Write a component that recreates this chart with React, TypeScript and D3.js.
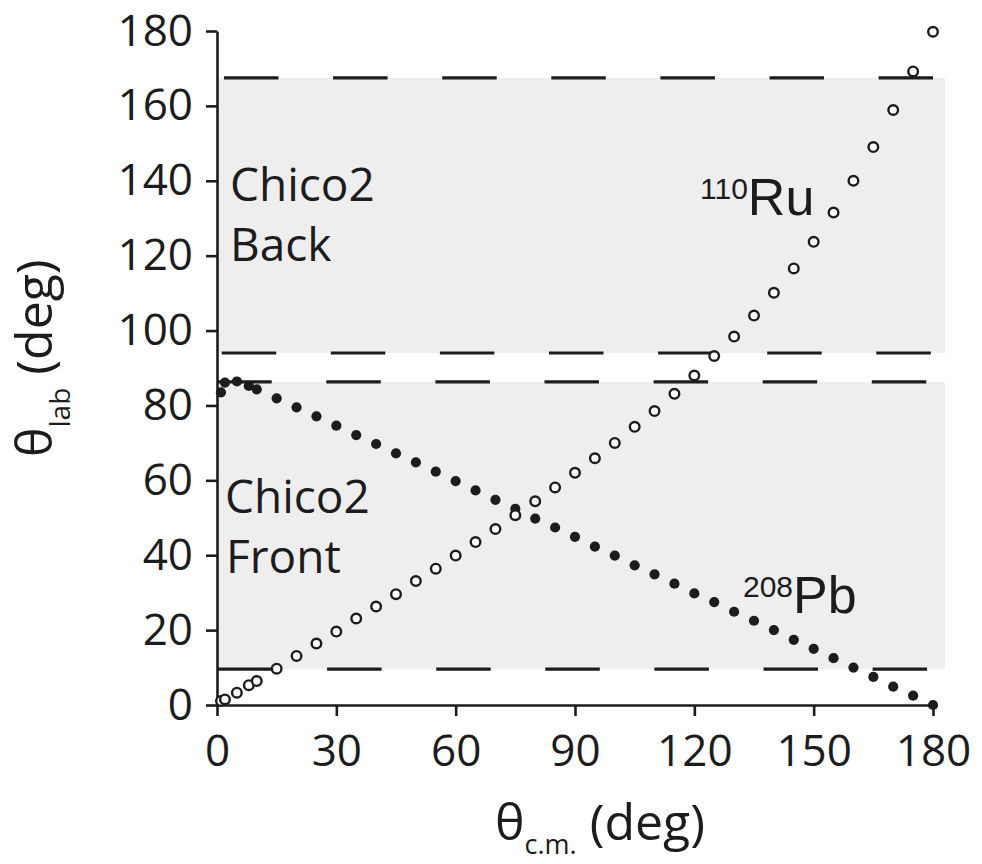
import React, { useRef, useEffect } from 'react';
import * as d3 from 'd3';

// centre-of-mass angles (deg)
const cmAngles = [1, 2, 5, 8, 10, 15, 20, 25, 30, 35, 40, 45, 50, 55, 60, 65, 70, 75, 80, 85, 90,
  95, 100, 105, 110, 115, 120, 125, 130, 135, 140, 145, 150, 155, 160, 165, 170, 175, 180];
// lab angle of the 110Ru projectile (open circles)
const ruLab = [1.1, 1.5, 3.3, 5.3, 6.4, 9.7, 13.1, 16.4, 19.6, 23.1, 26.3, 29.6, 33.1, 36.4, 39.9,
  43.5, 47, 50.7, 54.4, 58.1, 62, 65.9, 70, 74.3, 78.5, 83.1, 88, 93.2, 98.4, 104, 110.1, 116.6,
  123.7, 131.5, 140, 149, 158.9, 169.2, 179.8];
// lab angle of the 208Pb recoil (filled dots)
const pbLab = [83.5, 86.1, 86.4, 85.2, 84.3, 81.9, 79.5, 77.1, 74.6, 72.1, 69.7, 67.2, 64.8, 62.3,
  59.8, 57.3, 54.8, 52.4, 49.8, 47.4, 44.9, 42.3, 39.9, 37.3, 34.9, 32.4, 29.8, 27.5, 24.9, 22.5,
  20, 17.4, 15, 12.5, 10, 7.5, 4.9, 2.5, 0];

// Chico2 detector coverage [low, high] in lab angle
const bandNames = ['Front', 'Back'];
const bandLow = [9.6, 94];
const bandHigh = [86.3, 167.5];

const xTicks = [0, 30, 60, 90, 120, 150, 180];
const yTicks = [0, 20, 40, 60, 80, 100, 120, 140, 160, 180];

const width = 982;
const height = 864;
const margin = { top: 31, right: 49, bottom: 159, left: 217 };

const x = d3.scaleLinear().domain([0, 180]).range([margin.left, width - margin.right]);
const y = d3.scaleLinear().domain([0, 180]).range([height - margin.bottom, margin.top]);

const ink = '#1c1c1c';
const font = '"Open Sans", sans-serif';

export default function App() {
  const xAxisRef = useRef<SVGGElement>(null);
  const yAxisRef = useRef<SVGGElement>(null);

  useEffect(() => {
    const xa = d3.select(xAxisRef.current);
    xa.call(d3.axisBottom(x).tickValues(xTicks).tickSize(11).tickSizeOuter(0).tickPadding(19) as any);
    const ya = d3.select(yAxisRef.current);
    ya.call(d3.axisLeft(y).tickValues(yTicks).tickSize(11).tickSizeOuter(0).tickPadding(13) as any);
    [xa, ya].forEach(a => {
      a.selectAll('path, line').attr('stroke', ink).attr('stroke-width', 2.6);
      a.selectAll('text')
        .attr('fill', ink)
        .style('font-family', font)
        .style('font-size', '44px');
    });
  }, []);

  const bandEdges = [bandLow[0], bandHigh[0], bandLow[1], bandHigh[1]];
  const dashStart = [1, 0.2, 4.7, 7];

  return (
    <svg width={width} height={height} style={{ position: 'absolute', left: 0, top: 0 }}>
      <rect width={width} height={height} fill="#fff" />
      {bandNames.map((n, i) => (
        <rect
          key={n}
          x={x(0) + 1.5}
          width={x(183) - x(0) - 1.5}
          y={y(bandHigh[i])}
          height={y(bandLow[i]) - y(bandHigh[i])}
          fill="#eeeeee"
        />
      ))}
      {bandEdges.map((v, i) => (
        <line
          key={i}
          x1={x(0) + dashStart[i]}
          x2={x(180)}
          y1={y(v)}
          y2={y(v)}
          stroke={ink}
          strokeWidth={3.2}
          strokeDasharray="54.5 54.6"
        />
      ))}
      <g ref={xAxisRef} transform={`translate(0,${y(0)})`} />
      <g ref={yAxisRef} transform={`translate(${x(0)},0)`} />

      {cmAngles.map((c, i) => (
        <circle key={'pb' + i} cx={x(c)} cy={y(pbLab[i])} r={5.1} fill={ink} />
      ))}
      {cmAngles.map((c, i) => (
        <circle key={'ru' + i} cx={x(c)} cy={y(ruLab[i])} r={4.8} fill="#fff" stroke={ink} strokeWidth={2.4} />
      ))}

      <g fill={ink} fontFamily={font} fontSize={46}>
        <text x={230} y={201}>Chico2</text>
        <text x={230} y={261}>Back</text>
        <text x={225} y={513}>Chico2</text>
        <text x={226} y={573}>Front</text>
      </g>

      <g fill={ink} fontFamily='"Liberation Sans", Arial, sans-serif'>
        <text x={700} y={215} fontSize={52}>
          <tspan fontSize={30} dy={-16}>110</tspan>
          <tspan dy={16}>Ru</tspan>
        </text>
        <text x={743} y={613} fontSize={52}>
          <tspan fontSize={30} dy={-16}>208</tspan>
          <tspan dy={16}>Pb</tspan>
        </text>
      </g>

      <text x={495} y={840} fill={ink} fontFamily={font} fontSize={50}>
        θ<tspan fontSize={27} dy={14}>c.m.</tspan>
        <tspan dy={-14}> (deg)</tspan>
      </text>
      <text transform="translate(52,457) rotate(-90)" fill={ink} fontFamily={font} fontSize={50}>
        θ<tspan fontSize={28} dy={18}>lab</tspan>
        <tspan dy={-18}> (deg)</tspan>
      </text>
    </svg>
  );
}
